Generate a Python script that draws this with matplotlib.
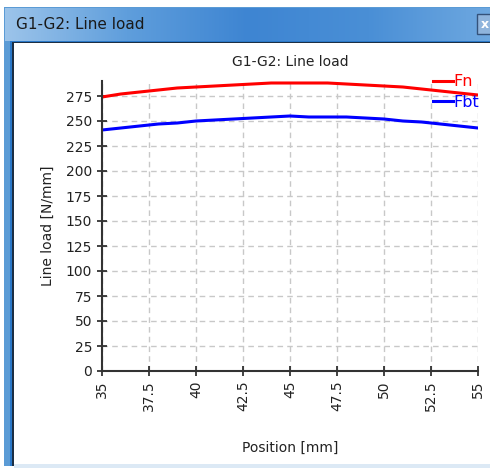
import numpy as np
import matplotlib.pyplot as plt
from matplotlib.patches import Rectangle
from matplotlib.colors import LinearSegmentedColormap

# Data
position = [35, 36, 37, 38, 39, 40, 41, 42, 43, 44, 45,
            46, 47, 48, 49, 50, 51, 52, 53, 54, 55]
fn = [274, 277, 279, 281, 283, 284, 285, 286, 287, 288, 288,
      288, 288, 287, 286, 285, 284, 282, 280, 278, 276]
fbt = [241, 243, 245, 247, 248, 250, 251, 252, 253, 254, 255,
       254, 254, 254, 253, 252, 250, 249, 247, 245, 243]
xticks = [35, 37.5, 40, 42.5, 45, 47.5, 50, 52.5, 55]
xtick_labels = ['35', '37.5', '40', '42.5', '45', '47.5', '50', '52.5', '55']
yticks = list(range(0, 300, 25))

W, H = 490, 468
fig = plt.figure(figsize=(W / 100, H / 100), dpi=100)
fig.patch.set_facecolor('white')

# window frame (px coords, top-left origin -> figure fraction)
def px_rect(x0, y0, x1, y1, **kw):
    fig.patches.append(Rectangle((x0 / W, 1 - y1 / H), (x1 - x0) / W, (y1 - y0) / H,
                                 transform=fig.transFigure, **kw))

px_rect(4, 7, 490, 466, facecolor='#5b9bd5', edgecolor='none', zorder=0)
px_rect(10, 41, 490, 466, facecolor='#2a78c8', edgecolor='none', zorder=1)
px_rect(12, 42, 490, 466, facecolor='#1c2f44', edgecolor='none', zorder=1)
px_rect(14, 43, 490, 464, facecolor='white', edgecolor='none', zorder=1)
px_rect(14, 464, 490, 468, facecolor='#dce9f5', edgecolor='none', zorder=1)

# gradient title bar
grad = np.linspace(0, 1, 256).reshape(1, -1)
tb = fig.add_axes([5 / W, 1 - 41 / H, 485 / W, 33 / H])
tb.set_zorder(2)
tb.imshow(grad, aspect='auto', extent=[0, 1, 0, 1],
          cmap=LinearSegmentedColormap.from_list(
              'tb', ['#9cc4ea', '#5f9edc', '#3e85d2', '#4a8fd6', '#6ea8e0']))
tb.axis('off')
tb.add_patch(Rectangle((0.9735, 0.2), 0.04, 0.62, facecolor='#8fb4dc',
                       edgecolor='#34527a', linewidth=1, transform=tb.transAxes))
tb.text(0.99, 0.5, 'x', color='white', fontsize=9, fontweight='bold',
        ha='center', va='center', transform=tb.transAxes)
tb.text(11 / 485, 0.5, 'G1-G2: Line load', fontsize=11, color='#1a1a1a',
        ha='left', va='center', transform=tb.transAxes)

ax = fig.add_axes([102 / W, 1 - 371 / H, 376 / W, 290 / H])
ax.set_zorder(5)
ax.patch.set_alpha(0)
ax.plot(position, fn, color='#ff0000', linewidth=2.2, label='Fn')
ax.plot(position, fbt, color='#0000ff', linewidth=2.2, label='Fbt')

ax.set_xlim(35, 55)
ax.set_ylim(0, 290)
ax.set_xticks(xticks)
ax.set_xticklabels(xtick_labels, rotation=90)
ax.set_yticks(yticks)
ax.tick_params(direction='inout', length=7, width=1.2, colors='#222222',
               labelsize=10, labelcolor='#222222')
ax.grid(True, color='#c8c8c8', linestyle=(0, (4, 3)), linewidth=1)
for s in ['top', 'right']:
    ax.spines[s].set_visible(False)
for s in ['left', 'bottom']:
    ax.spines[s].set_color('#333333')
    ax.spines[s].set_linewidth(1.5)

ax.set_title('G1-G2: Line load', fontsize=10, color='#222222', pad=11)
ax.set_xlabel('Position [mm]', fontsize=10, color='#222222', labelpad=21)
ax.set_ylabel('Line load [N/mm]', fontsize=10, color='#222222', labelpad=8)

leg = ax.legend(loc='upper left', bbox_to_anchor=(0.858, 1.05), frameon=False,
                labelcolor='linecolor', fontsize=11.5, handlelength=1.3,
                handletextpad=0.0, labelspacing=0.35, borderpad=0)

fig.savefig('out.png', dpi=100)
